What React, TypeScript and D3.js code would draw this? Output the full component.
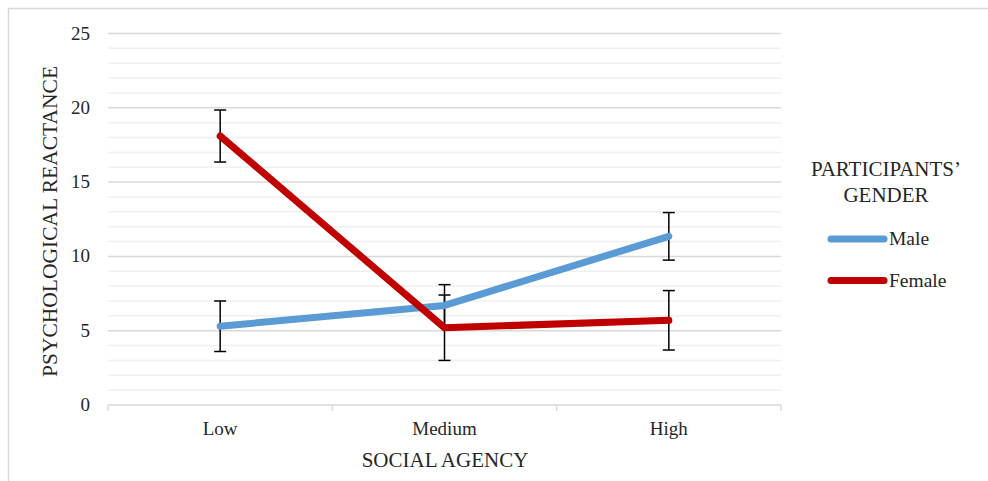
import React from "react";
import * as d3 from "d3";

const categories = ["Low", "Medium", "High"];
const maleValues = [5.3, 6.7, 11.35];
const maleErrors = [1.7, 1.4, 1.6];
const femaleValues = [18.1, 5.2, 5.7];
const femaleErrors = [1.75, 2.2, 2.0];
const yTicks = [0, 5, 10, 15, 20, 25];
const seriesNames = ["Male", "Female"];
const seriesColors = ["#5B9BD5", "#C00000"];

const W = 988;
const H = 481;
const FONT = "'Liberation Serif', 'Times New Roman', serif";
const TXT = "#262626";

export default function App() {
  const x = d3.scaleBand<string>().domain(categories).range([108, 781]).padding(0);
  const y = d3.scaleLinear().domain([0, 25]).range([405, 33.5]);
  const minor = d3.range(0, 26, 1).filter((v) => v % 5 !== 0);
  const cx = (c: string) => (x(c) as number) + x.bandwidth() / 2;

  const series = [
    { name: seriesNames[0], values: maleValues, errors: maleErrors, color: seriesColors[0] },
    { name: seriesNames[1], values: femaleValues, errors: femaleErrors, color: seriesColors[1] },
  ];

  const line = d3
    .line<number>()
    .x((_, i) => cx(categories[i]))
    .y((d) => y(d));

  const boundaries = [...categories.map((c) => x(c) as number), x.range()[1]];

  return (
    <svg
      width={W}
      height={H}
      style={{ position: "absolute", left: 0, top: 0, display: "block" }}
      fontFamily={FONT}
    >
      <rect x={0} y={0} width={W} height={H} fill="#fff" />
      <rect x={8.5} y={8.5} width={W + 20} height={H + 20} fill="none" stroke="#d9d9d9" strokeWidth={1.5} />
      {/* minor gridlines */}
      {minor.map((v) => (
        <line key={"m" + v} x1={108} x2={781} y1={y(v)} y2={y(v)} stroke="#f0f0f0" strokeWidth={1.5} />
      ))}
      {/* major gridlines */}
      {yTicks.filter((v) => v !== 0).map((v) => (
        <line key={"g" + v} x1={108} x2={781} y1={y(v)} y2={y(v)} stroke="#d9d9d9" strokeWidth={1.5} />
      ))}
      {/* x axis */}
      <line x1={108} x2={781} y1={y(0)} y2={y(0)} stroke="#d9d9d9" strokeWidth={1.5} />
      {boundaries.map((b, i) => (
        <line key={"t" + i} x1={b} x2={b} y1={y(0)} y2={y(0) + 6} stroke="#d9d9d9" strokeWidth={1.5} />
      ))}
      {/* y tick labels */}
      {yTicks.map((v) => (
        <text key={"yl" + v} x={90} y={y(v) + 6} textAnchor="end" fontSize={19} fill={TXT}>
          {v}
        </text>
      ))}
      {/* x tick labels */}
      {categories.map((c) => (
        <text key={"xl" + c} x={cx(c)} y={435} textAnchor="middle" fontSize={19} fill={TXT}>
          {c}
        </text>
      ))}
      {/* axis titles */}
      <text x={445} y={467} textAnchor="middle" fontSize={21} fill={TXT}>
        SOCIAL AGENCY
      </text>
      <text
        transform={`translate(57,221.5) rotate(-90)`}
        textAnchor="middle"
        fontSize={21.5}
        fill={TXT}
      >
        PSYCHOLOGICAL REACTANCE
      </text>
      {/* error bars */}
      {series.map((s) =>
        s.values.map((v, i) => {
          const px = cx(categories[i]);
          const t = y(v + s.errors[i]);
          const b = y(v - s.errors[i]);
          return (
            <g key={s.name + "e" + i} stroke="#000" strokeWidth={1.5}>
              <line x1={px} x2={px} y1={t} y2={b} />
              <line x1={px - 6} x2={px + 6} y1={t} y2={t} />
              <line x1={px - 6} x2={px + 6} y1={b} y2={b} />
            </g>
          );
        })
      )}
      {/* lines */}
      {series.map((s) => (
        <path
          key={s.name}
          d={line(s.values) as string}
          fill="none"
          stroke={s.color}
          strokeWidth={7}
          strokeLinecap="round"
          strokeLinejoin="round"
        />
      ))}
      {/* legend */}
      <text x={886} y={176} textAnchor="middle" fontSize={21} fill={TXT}>
        PARTICIPANTS’
      </text>
      <text x={886} y={202} textAnchor="middle" fontSize={21} fill={TXT}>
        GENDER
      </text>
      {series.map((s, i) => {
        const ly = 239 + i * 41.5;
        return (
          <g key={"lg" + s.name}>
            <line x1={831} x2={884} y1={ly} y2={ly} stroke={s.color} strokeWidth={7} strokeLinecap="round" />
            <text x={889} y={ly + 6} fontSize={19.5} fill={TXT}>
              {s.name}
            </text>
          </g>
        );
      })}
    </svg>
  );
}
